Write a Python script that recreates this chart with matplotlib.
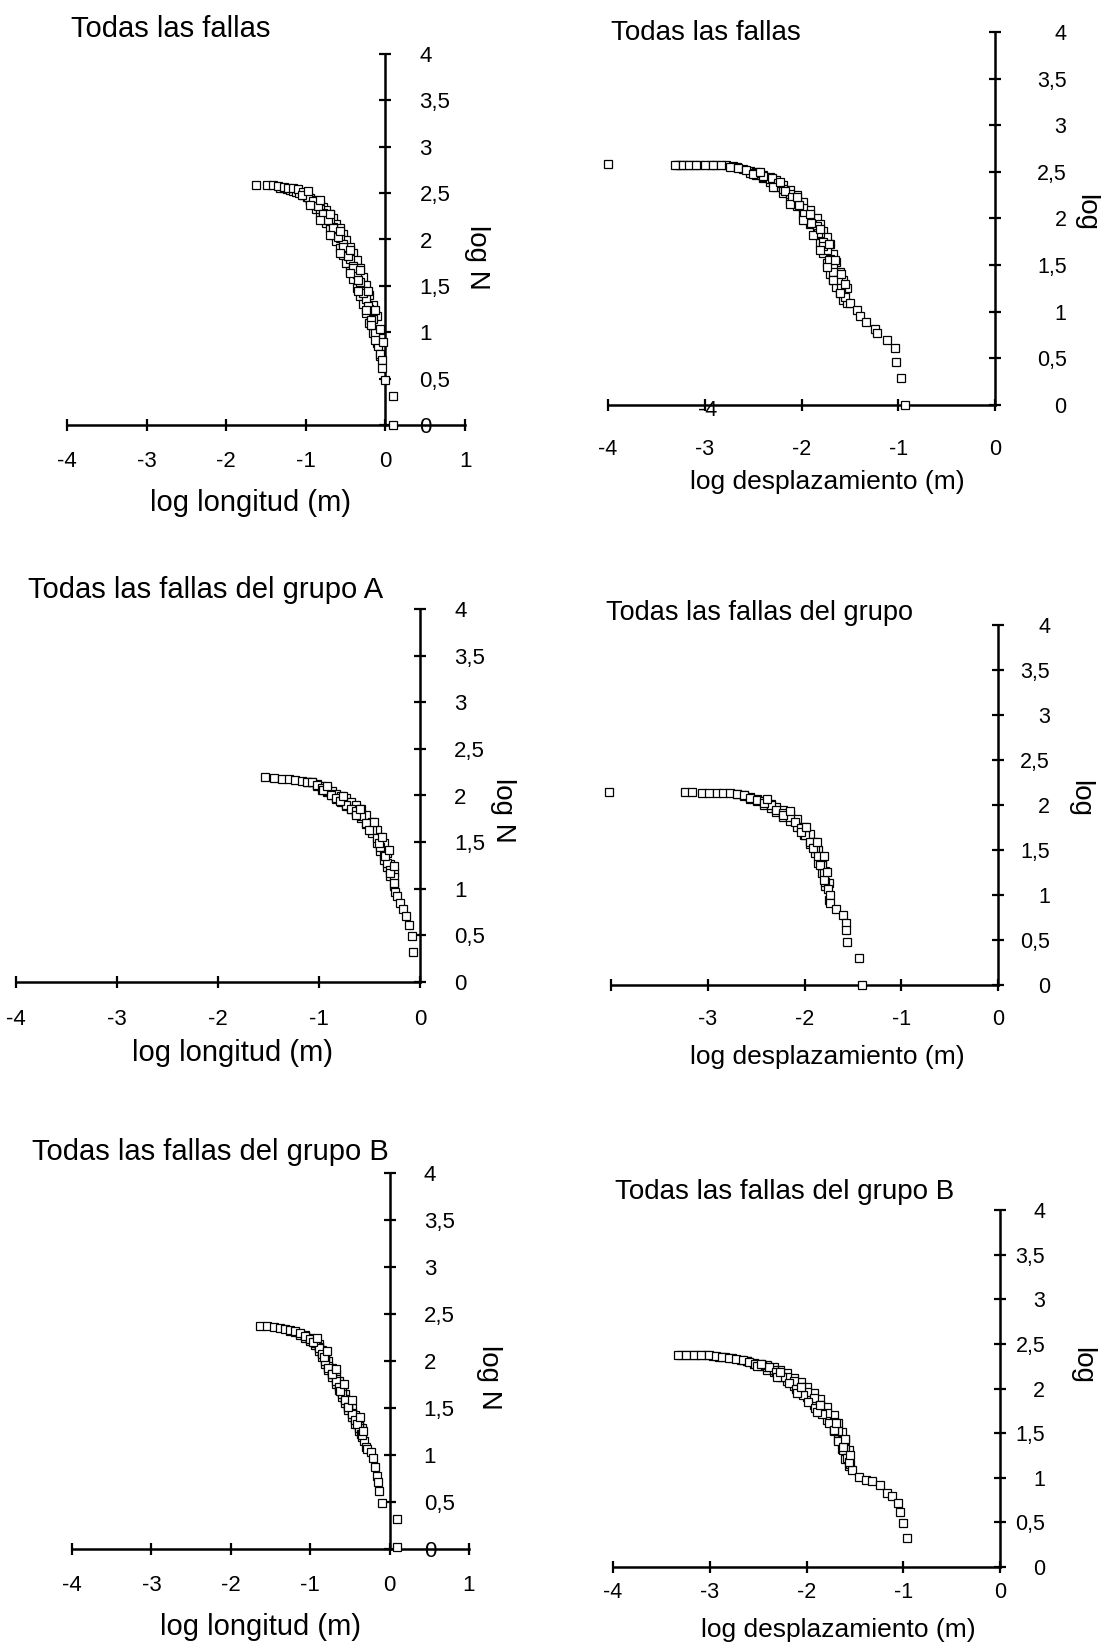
import matplotlib
matplotlib.use('Agg')
import matplotlib.pyplot as plt

plt.rcParams['font.family'] = ['Liberation Sans', 'DejaVu Sans']

# log N axis ticks (comma decimal as in the original)
y_ticks = [0, 0.5, 1, 1.5, 2, 2.5, 3, 3.5, 4]
y_tick_labels = ['0', '0,5', '1', '1,5', '2', '2,5', '3', '3,5', '4']

# Todas las fallas - log longitud
lon_todas_x = [-1.62, -1.49, -1.41, -1.35, -1.28, -1.22, -1.16, -1.10, -1.03, -0.97,
               -0.91, -0.85, -0.78, -0.72, -0.66, -0.59, -0.53, -0.47, -0.41, -0.34,
               -0.28, -0.22, -0.18, -0.13, -0.09, -0.07, -0.04, -0.04, -0.01, 0.09, 0.10,
               -1.05, -0.95, -0.82, -0.70, -0.57, -0.45, -0.34, -0.24, -0.18, -0.13,
               -0.97, -0.82, -0.70, -0.57, -0.45, -0.32, -0.22, -0.13, -0.07, -0.03]
lon_todas_y = [2.59, 2.59, 2.59, 2.58, 2.57, 2.56, 2.55, 2.54, 2.51, 2.46,
               2.41, 2.36, 2.28, 2.21, 2.12, 2.03, 1.92, 1.82, 1.69, 1.56,
               1.42, 1.28, 1.13, 0.99, 0.85, 0.77, 0.70, 0.61, 0.49, 0.31, 0.0,
               2.48, 2.37, 2.21, 2.05, 1.85, 1.64, 1.44, 1.24, 1.08, 0.92,
               2.52, 2.43, 2.27, 2.09, 1.89, 1.67, 1.44, 1.24, 1.04, 0.90]
# dense band (upper edge, lower edge and middle readings)
lon_todas_band_x = [-1.33, -1.28, -1.24, -1.20, -1.16, -1.12, -1.08, -1.03, -0.99,
                    -0.95, -0.95, -0.91, -0.91, -0.87, -0.87, -0.82, -0.82, -0.78, -0.78,
                    -0.74, -0.74, -0.70, -0.70, -0.66, -0.66, -0.62, -0.62, -0.57, -0.57,
                    -0.53, -0.53, -0.49, -0.49, -0.45, -0.45, -0.41, -0.41, -0.36, -0.36,
                    -0.32, -0.32, -0.28, -0.28, -0.24, -0.24, -0.20, -0.20, -0.15, -0.15,
                    -0.11, -0.11, -0.07, -0.07,
                    -0.95, -0.91, -0.87, -0.82, -0.78, -0.74, -0.70, -0.66, -0.62, -0.57,
                    -0.53, -0.49, -0.45, -0.41, -0.36, -0.32, -0.28, -0.24, -0.20, -0.15]
lon_todas_band_y = [2.55, 2.55, 2.54, 2.53, 2.52, 2.51, 2.50, 2.48, 2.46,
                    2.45, 2.41, 2.43, 2.38, 2.41, 2.33, 2.38, 2.28, 2.35, 2.23,
                    2.32, 2.18, 2.27, 2.12, 2.23, 2.05, 2.17, 1.98, 2.12, 1.91,
                    2.06, 1.83, 1.99, 1.75, 1.92, 1.66, 1.85, 1.57, 1.78, 1.48,
                    1.69, 1.39, 1.60, 1.30, 1.51, 1.21, 1.40, 1.10, 1.29, 0.99,
                    1.17, 0.88, 1.02, 0.74,
                    2.43, 2.40, 2.37, 2.33, 2.29, 2.25, 2.20, 2.14, 2.08, 2.02,
                    1.95, 1.87, 1.79, 1.71, 1.63, 1.54, 1.45, 1.36, 1.25, 1.14]

# Todas las fallas - log desplazamiento
des_todas_x = [-4.0, -3.31, -3.22, -3.16, -3.09, -3.0, -2.91, -2.83, -2.74, -2.66,
               -2.57, -2.48, -2.40, -2.31, -2.24, -2.17, -2.10, -2.03, -1.97, -1.90,
               -1.83, -1.78, -1.72, -1.67, -1.62, -1.59, -1.55, -1.50, -1.43, -1.40,
               -1.33, -1.24, -1.22, -1.12, -1.03, -1.02, -0.97, -0.93,
               -2.50, -2.29, -2.12, -1.98, -1.88, -1.81, -1.74, -1.67, -1.60,
               -2.43, -2.22, -2.05, -1.91, -1.81, -1.72, -1.65, -1.59, -1.55]
des_todas_y = [2.58, 2.57, 2.57, 2.57, 2.57, 2.57, 2.57, 2.57, 2.55, 2.54,
               2.52, 2.49, 2.46, 2.43, 2.38, 2.30, 2.23, 2.14, 2.05, 1.95,
               1.84, 1.70, 1.55, 1.43, 1.34, 1.25, 1.16, 1.09, 1.02, 0.95,
               0.89, 0.82, 0.77, 0.70, 0.61, 0.46, 0.29, 0.0,
               2.48, 2.34, 2.16, 1.98, 1.82, 1.66, 1.48, 1.34, 1.20,
               2.50, 2.39, 2.23, 2.05, 1.89, 1.73, 1.55, 1.41, 1.30]
des_todas_band_x = [-3.29, -3.26, -3.19, -3.12, -3.05, -2.95, -2.88, -2.78, -2.71,
                    -2.67, -2.60, -2.53, -2.53, -2.47, -2.47, -2.40, -2.40, -2.33, -2.33,
                    -2.26, -2.26, -2.19, -2.19, -2.12, -2.12, -2.05, -2.05, -1.98, -1.98,
                    -1.91, -1.91, -1.84, -1.84, -1.81, -1.81, -1.78, -1.78, -1.74, -1.74,
                    -1.71, -1.71, -1.67, -1.67, -1.64, -1.64, -1.60, -1.60, -1.57, -1.57,
                    -1.53, -1.53,
                    -2.47, -2.40, -2.33, -2.26, -2.19, -2.12, -2.05, -1.98, -1.91, -1.84,
                    -1.81, -1.78, -1.74, -1.71, -1.67, -1.64]
des_todas_band_y = [2.57, 2.57, 2.57, 2.57, 2.57, 2.57, 2.57, 2.57, 2.56,
                    2.55, 2.53, 2.51, 2.49, 2.50, 2.47, 2.47, 2.43, 2.44, 2.39,
                    2.41, 2.34, 2.36, 2.27, 2.31, 2.20, 2.25, 2.13, 2.18, 2.04,
                    2.09, 1.94, 2.00, 1.83, 1.94, 1.74, 1.87, 1.63, 1.80, 1.52,
                    1.73, 1.41, 1.62, 1.34, 1.53, 1.27, 1.43, 1.20, 1.34, 1.13,
                    1.26, 1.09,
                    2.49, 2.45, 2.42, 2.38, 2.32, 2.26, 2.19, 2.11, 2.02, 1.92,
                    1.84, 1.75, 1.66, 1.57, 1.48, 1.40]

# Grupo A - log longitud
lon_a_x = [-1.53, -1.45, -1.37, -1.30, -1.24, -1.17, -1.12, -1.07, -1.02, -0.97,
           -0.92, -0.88, -0.83, -0.78, -0.73, -0.68, -0.63, -0.58, -0.53, -0.48,
           -0.43, -0.40, -0.36, -0.33, -0.30, -0.26, -0.26, -0.25, -0.23, -0.20,
           -0.17, -0.14, -0.11, -0.08, -0.07,
           -0.96, -0.79, -0.63, -0.50, -0.41, -0.35, -0.30,
           -0.92, -0.76, -0.59, -0.46, -0.38, -0.31, -0.26]
lon_a_y = [2.20, 2.19, 2.18, 2.18, 2.17, 2.16, 2.15, 2.14, 2.11, 2.08,
           2.05, 2.01, 1.97, 1.94, 1.90, 1.86, 1.83, 1.78, 1.70, 1.63,
           1.54, 1.45, 1.36, 1.28, 1.20, 1.13, 1.06, 0.97, 0.92, 0.85,
           0.78, 0.71, 0.61, 0.49, 0.32,
           2.06, 1.94, 1.79, 1.63, 1.49, 1.35, 1.17,
           2.10, 1.99, 1.86, 1.72, 1.56, 1.42, 1.24]
lon_a_band_x = [-1.12, -1.07, -1.02, -1.02, -0.97, -0.97, -0.92, -0.92, -0.87, -0.87,
                -0.83, -0.83, -0.78, -0.78, -0.73, -0.73, -0.68, -0.68, -0.63, -0.63,
                -0.58, -0.58, -0.53, -0.53, -0.48, -0.48, -0.43, -0.43, -0.40, -0.40,
                -0.36, -0.36, -0.33, -0.33, -0.30, -0.30, -0.26, -0.26]
lon_a_band_y = [2.15, 2.14, 2.12, 2.10, 2.10, 2.06, 2.08, 2.04, 2.05, 2.00,
                2.02, 1.96, 1.99, 1.93, 1.97, 1.89, 1.93, 1.86, 1.90, 1.81,
                1.85, 1.76, 1.79, 1.69, 1.72, 1.60, 1.63, 1.49, 1.56, 1.40,
                1.49, 1.31, 1.38, 1.23, 1.27, 1.14, 1.18, 1.03]

# Grupo A - log desplazamiento
des_a_x = [-4.02, -3.23, -3.16, -3.06, -2.99, -2.90, -2.84, -2.77, -2.70, -2.63,
           -2.56, -2.49, -2.42, -2.35, -2.29, -2.22, -2.15, -2.10, -2.04, -1.99,
           -1.94, -1.89, -1.86, -1.82, -1.80, -1.79, -1.76, -1.74, -1.74, -1.67,
           -1.60, -1.57, -1.57, -1.56, -1.44, -1.41,
           -2.42, -2.22, -2.04, -1.91, -1.84, -1.80,
           -2.39, -2.15, -1.98, -1.87, -1.80, -1.77]
des_a_y = [2.15, 2.14, 2.14, 2.13, 2.13, 2.13, 2.13, 2.13, 2.12, 2.11,
           2.08, 2.06, 2.04, 2.00, 1.94, 1.91, 1.87, 1.81, 1.74, 1.67,
           1.59, 1.52, 1.43, 1.33, 1.24, 1.15, 1.07, 1.00, 0.91, 0.85,
           0.78, 0.69, 0.61, 0.48, 0.30, 0.0,
           2.02, 1.89, 1.70, 1.52, 1.33, 1.17,
           2.07, 1.93, 1.76, 1.59, 1.43, 1.26]
des_a_band_x = [-2.70, -2.63, -2.63, -2.56, -2.56, -2.49, -2.49, -2.42, -2.42,
                -2.35, -2.35, -2.29, -2.29, -2.22, -2.22, -2.15, -2.15, -2.08, -2.08,
                -2.01, -2.01, -1.94, -1.94, -1.89, -1.89, -1.86, -1.86, -1.82, -1.82,
                -1.79, -1.79, -1.75, -1.75]
des_a_band_y = [2.12, 2.11, 2.10, 2.09, 2.07, 2.07, 2.04, 2.04, 2.00,
                2.01, 1.97, 1.98, 1.92, 1.94, 1.87, 1.90, 1.82, 1.84, 1.76,
                1.76, 1.67, 1.68, 1.57, 1.59, 1.47, 1.50, 1.36, 1.39, 1.24,
                1.27, 1.10, 1.13, 0.95]

# Grupo B - log longitud
lon_b_x = [-1.63, -1.55, -1.46, -1.38, -1.32, -1.25, -1.19, -1.13, -1.06, -1.00,
           -0.94, -0.89, -0.85, -0.81, -0.77, -0.72, -0.68, -0.64, -0.60, -0.56,
           -0.52, -0.47, -0.43, -0.39, -0.36, -0.32, -0.30, -0.28, -0.24, -0.21,
           -0.19, -0.16, -0.15, -0.13, -0.10, 0.09, 0.09,
           -0.96, -0.83, -0.73, -0.62, -0.52, -0.41, -0.35,
           -0.92, -0.79, -0.68, -0.58, -0.47, -0.37, -0.33]
lon_b_y = [2.37, 2.37, 2.36, 2.35, 2.34, 2.33, 2.32, 2.30, 2.27, 2.23,
           2.20, 2.14, 2.07, 2.00, 1.93, 1.86, 1.79, 1.72, 1.65, 1.58,
           1.51, 1.44, 1.37, 1.29, 1.22, 1.15, 1.08, 1.06, 1.03, 0.97,
           0.87, 0.78, 0.71, 0.62, 0.49, 0.32, 0.02,
           2.20, 2.04, 1.86, 1.68, 1.51, 1.33, 1.21,
           2.25, 2.11, 1.91, 1.76, 1.58, 1.40, 1.26]
lon_b_band_x = [-1.25, -1.19, -1.13, -1.13, -1.06, -1.06, -1.00, -1.00, -0.94, -0.94,
                -0.89, -0.89, -0.85, -0.85, -0.81, -0.81, -0.77, -0.77, -0.73, -0.73,
                -0.68, -0.68, -0.64, -0.64, -0.60, -0.60, -0.56, -0.56, -0.52, -0.52,
                -0.47, -0.47, -0.43, -0.43, -0.39, -0.39, -0.35, -0.35,
                -1.06, -1.00, -0.94, -0.89, -0.85, -0.81, -0.77, -0.73, -0.68, -0.64,
                -0.60, -0.56, -0.52, -0.47, -0.43, -0.39]
lon_b_band_y = [2.32, 2.31, 2.29, 2.28, 2.28, 2.25, 2.25, 2.21, 2.21, 2.17,
                2.18, 2.11, 2.12, 2.04, 2.06, 1.97, 2.00, 1.90, 1.93, 1.83,
                1.86, 1.76, 1.79, 1.69, 1.72, 1.62, 1.65, 1.55, 1.57, 1.48,
                1.50, 1.40, 1.43, 1.33, 1.36, 1.26, 1.29, 1.19,
                2.27, 2.23, 2.19, 2.15, 2.08, 2.02, 1.95, 1.88, 1.81, 1.74,
                1.67, 1.60, 1.53, 1.45, 1.38, 1.31]

# Grupo B - log desplazamiento
des_b_x = [-3.33, -3.25, -3.16, -3.09, -3.01, -2.94, -2.87, -2.80, -2.73, -2.66,
           -2.59, -2.53, -2.46, -2.39, -2.32, -2.25, -2.18, -2.11, -2.04, -1.98,
           -1.91, -1.84, -1.77, -1.72, -1.67, -1.62, -1.58, -1.55, -1.53, -1.46,
           -1.39, -1.32, -1.24, -1.17, -1.12, -1.05, -1.03, -1.00, -0.96,
           -2.51, -2.30, -2.10, -1.89, -1.72, -1.62, -1.56,
           -2.47, -2.27, -2.06, -1.86, -1.70, -1.60, -1.55]
des_b_y = [2.37, 2.37, 2.37, 2.37, 2.37, 2.36, 2.35, 2.34, 2.33, 2.32,
           2.30, 2.28, 2.26, 2.24, 2.19, 2.13, 2.06, 2.00, 1.93, 1.85,
           1.78, 1.71, 1.61, 1.52, 1.41, 1.31, 1.22, 1.15, 1.09, 1.01,
           0.98, 0.96, 0.92, 0.83, 0.79, 0.72, 0.62, 0.49, 0.32,
           2.25, 2.13, 1.95, 1.74, 1.54, 1.35, 1.18,
           2.28, 2.19, 2.02, 1.82, 1.61, 1.43, 1.26]
des_b_band_x = [-3.30, -3.21, -3.13, -3.04, -2.97, -2.90, -2.84, -2.77,
                -2.68, -2.61, -2.61, -2.54, -2.54, -2.47, -2.47, -2.41, -2.41,
                -2.34, -2.34, -2.27, -2.27, -2.20, -2.20, -2.13, -2.13, -2.06, -2.06,
                -1.99, -1.99, -1.92, -1.92, -1.86, -1.86, -1.79, -1.79, -1.72, -1.72,
                -1.67, -1.67, -1.63, -1.63, -1.60, -1.60, -1.56, -1.56,
                -2.41, -2.34, -2.27, -2.20, -2.13, -2.06, -1.99, -1.92, -1.86, -1.79,
                -1.72, -1.67, -1.63, -1.60]
des_b_band_y = [2.37, 2.37, 2.37, 2.37, 2.36, 2.35, 2.35, 2.34,
                2.32, 2.31, 2.31, 2.29, 2.28, 2.28, 2.25, 2.26, 2.21,
                2.24, 2.18, 2.21, 2.13, 2.17, 2.08, 2.12, 2.03, 2.07, 1.96,
                2.02, 1.90, 1.95, 1.82, 1.88, 1.75, 1.79, 1.65, 1.70, 1.54,
                1.61, 1.43, 1.51, 1.32, 1.42, 1.21, 1.31, 1.13,
                2.24, 2.21, 2.17, 2.13, 2.08, 2.02, 1.96, 1.89, 1.82, 1.72,
                1.62, 1.52, 1.42, 1.32]

W, H = 1101, 1642
fig = plt.figure(figsize=(W / 100, H / 100), dpi=100)


def fx(x):
    return x / W


def fy(y):
    return 1 - y / H


def panel(px_left, px_right, px_y0, px_y4, xmin, xmax, series,
          xtick_labels, right_col, ypad, xpad, tick_fs):
    ax = fig.add_axes([fx(px_left), fy(px_y0), (px_right - px_left) / W,
                       (px_y0 - px_y4) / H])
    ax.set_xlim(xmin, xmax)
    ax.set_ylim(0, 4)
    ax.patch.set_alpha(0)
    for s in ['top', 'left']:
        ax.spines[s].set_visible(False)
    ax.spines['right'].set_position(('data', 0))
    ax.spines['bottom'].set_position(('data', 0))
    for s in ['right', 'bottom']:
        ax.spines[s].set_linewidth(1.8)
    ax.yaxis.tick_right()
    ax.set_yticks(y_ticks)
    ax.set_yticklabels(y_tick_labels)
    ax.set_xticks(list(range(int(xmin), int(xmax) + 1)))
    ax.set_xticklabels(xtick_labels)
    ax.tick_params(direction='inout', length=9, width=1.6, labelsize=tick_fs)
    ax.tick_params(axis='y', pad=ypad)
    ax.tick_params(axis='x', pad=xpad)
    for lbl in ax.get_yticklabels():
        lbl.set_horizontalalignment('right' if right_col else 'left')
    for xs, ys in series:
        ax.plot(xs, ys, linestyle='none', marker='s', markersize=5.5,
                markerfacecolor='white', markeredgecolor='black',
                markeredgewidth=0.9, clip_on=False, zorder=3)
    return ax


# row 1
panel(67, 465, 425, 54, -4, 1,
      [(lon_todas_band_x, lon_todas_band_y), (lon_todas_x, lon_todas_y)],
      ['-4', '-3', '-2', '-1', '0', '1'], False, 20, 14, 16)
panel(608, 995, 405, 32, -4, 0,
      [(des_todas_band_x, des_todas_band_y), (des_todas_x, des_todas_y)],
      ['-4', '-3', '-2', '-1', '0'], True, 47, 20, 15.5)
# row 2
panel(16, 420, 982, 609, -4, 0,
      [(lon_a_band_x, lon_a_band_y), (lon_a_x, lon_a_y)],
      ['-4', '-3', '-2', '-1', '0'], False, 20, 15, 16)
panel(611, 998, 985, 625, -4, 0,
      [(des_a_band_x, des_a_band_y), (des_a_x, des_a_y)],
      ['', '-3', '-2', '-1', '0'], True, 33, 13, 15.5)
# row 3
panel(72, 469, 1549, 1173, -4, 1,
      [(lon_b_band_x, lon_b_band_y), (lon_b_x, lon_b_y)],
      ['-4', '-3', '-2', '-1', '0', '1'], False, 20, 14, 16)
panel(613, 1000, 1567, 1210, -4, 0,
      [(des_b_band_x, des_b_band_y), (des_b_x, des_b_y)],
      ['-4', '-3', '-2', '-1', '0'], True, 28, 6, 15.5)

# titles
fig.text(fx(71), fy(29), 'Todas las fallas', fontsize=21, va='center')
fig.text(fx(611), fy(33), 'Todas las fallas', fontsize=20, va='center')
fig.text(fx(28), fy(590), 'Todas las fallas del grupo A', fontsize=21, va='center')
fig.text(fx(606), fy(613), 'Todas las fallas del grupo', fontsize=19.5, va='center')
fig.text(fx(32), fy(1152), 'Todas las fallas del grupo B', fontsize=21, va='center')
fig.text(fx(615), fy(1192), 'Todas las fallas del grupo B', fontsize=20, va='center')

# x axis labels
fig.text(fx(251), fy(503), 'log longitud (m)', fontsize=21, ha='center', va='center')
fig.text(fx(827), fy(482), 'log desplazamiento (m)', fontsize=19, ha='center', va='center')
fig.text(fx(232), fy(1053), 'log longitud (m)', fontsize=21, ha='center', va='center')
fig.text(fx(827), fy(1057), 'log desplazamiento (m)', fontsize=19, ha='center', va='center')
fig.text(fx(261), fy(1627), 'log longitud (m)', fontsize=21, ha='center', va='center')
fig.text(fx(838), fy(1630), 'log desplazamiento (m)', fontsize=19, ha='center', va='center')

# y axis labels (rotated, read top to bottom)
fig.text(fx(477), fy(257), 'log N', fontsize=20, rotation=270, ha='center', va='center')
fig.text(fx(1086), fy(212), 'log', fontsize=20, rotation=270, ha='center', va='center')
fig.text(fx(503), fy(810), 'log N', fontsize=20, rotation=270, ha='center', va='center')
fig.text(fx(1080), fy(798), 'log', fontsize=20, rotation=270, ha='center', va='center')
fig.text(fx(489), fy(1377), 'log N', fontsize=20, rotation=270, ha='center', va='center')
fig.text(fx(1082), fy(1365), 'log', fontsize=20, rotation=270, ha='center', va='center')

# stray "-4" printed on the axis in the original
fig.text(fx(708), fy(410), '-4', fontsize=15.5, ha='center', va='center')

fig.savefig('out.png', dpi=100, facecolor='white')
